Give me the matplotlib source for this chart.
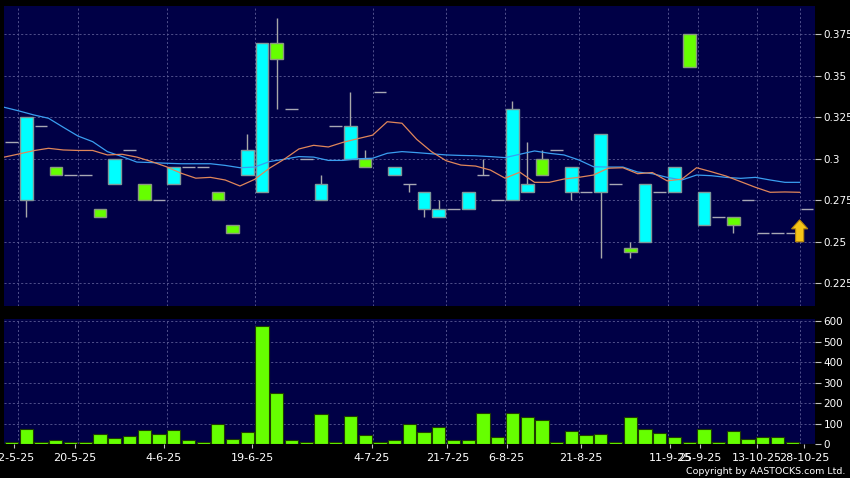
import numpy as np
import matplotlib
matplotlib.use('Agg')
import matplotlib.pyplot as plt
from matplotlib.patches import FancyArrow
from matplotlib.ticker import FuncFormatter

# daily candles, left to right
opens = [0.31, 0.275, 0.32, 0.295, 0.29, 0.29, 0.27, 0.285, 0.305, 0.285,
         0.275, 0.285, 0.295, 0.295, 0.28, 0.26, 0.29, 0.28, 0.37, 0.33,
         0.30, 0.275, 0.32, 0.30, 0.30, 0.34, 0.29, 0.285, 0.27, 0.265,
         0.27, 0.27, 0.29, 0.275, 0.275, 0.28, 0.30, 0.305, 0.28, 0.28,
         0.28, 0.285, 0.246, 0.25, 0.28, 0.28, 0.375, 0.26, 0.265, 0.265,
         0.275, 0.255, 0.255, 0.255, 0.27]
highs = [0.31, 0.325, 0.32, 0.295, 0.29, 0.29, 0.27, 0.30, 0.305, 0.285,
         0.275, 0.295, 0.295, 0.295, 0.28, 0.26, 0.315, 0.37, 0.385, 0.33,
         0.30, 0.29, 0.32, 0.34, 0.305, 0.34, 0.295, 0.285, 0.28, 0.275,
         0.27, 0.28, 0.30, 0.275, 0.335, 0.31, 0.305, 0.305, 0.295, 0.28,
         0.315, 0.285, 0.25, 0.285, 0.28, 0.295, 0.375, 0.28, 0.265, 0.265,
         0.275, 0.255, 0.255, 0.255, 0.27]
lows = [0.31, 0.265, 0.32, 0.29, 0.29, 0.29, 0.265, 0.285, 0.305, 0.275,
        0.275, 0.285, 0.295, 0.295, 0.275, 0.255, 0.29, 0.28, 0.33, 0.33,
        0.30, 0.275, 0.32, 0.30, 0.295, 0.34, 0.29, 0.28, 0.265, 0.265,
        0.27, 0.27, 0.29, 0.275, 0.275, 0.28, 0.29, 0.305, 0.275, 0.28,
        0.24, 0.285, 0.24, 0.25, 0.28, 0.28, 0.355, 0.26, 0.265, 0.255,
        0.275, 0.255, 0.255, 0.255, 0.27]
closes = [0.31, 0.325, 0.32, 0.29, 0.29, 0.29, 0.265, 0.30, 0.305, 0.275,
          0.275, 0.295, 0.295, 0.295, 0.275, 0.255, 0.305, 0.37, 0.36, 0.33,
          0.30, 0.285, 0.32, 0.32, 0.295, 0.34, 0.295, 0.285, 0.28, 0.27,
          0.27, 0.28, 0.29, 0.275, 0.33, 0.285, 0.29, 0.305, 0.295, 0.28,
          0.315, 0.285, 0.244, 0.285, 0.28, 0.295, 0.355, 0.28, 0.265, 0.26,
          0.275, 0.255, 0.255, 0.255, 0.27]
volumes = [8, 73, 8, 19, 8, 8, 49, 29, 39, 70,
           49, 70, 19, 8, 99, 24, 60, 575, 250, 19,
           8, 148, 8, 138, 45, 8, 19, 99, 60, 82,
           20, 20, 150, 32, 150, 132, 118, 11, 63, 42,
           47, 11, 132, 73, 53, 34, 11, 73, 11, 63,
           23, 34, 34, 11, 0]

# moving averages, read at the slot boundaries
ma_blue = [0.331, 0.3288, 0.3264, 0.3244, 0.319, 0.3137, 0.3103, 0.3043, 0.3013, 0.298,
           0.2977, 0.2973, 0.297, 0.297, 0.297, 0.296, 0.2946, 0.295, 0.2983, 0.2997,
           0.3013, 0.301, 0.299, 0.299, 0.300, 0.3003, 0.3033, 0.3043, 0.3037, 0.303,
           0.3023, 0.302, 0.3018, 0.3013, 0.3007, 0.3027, 0.3047, 0.3033, 0.3023, 0.2993,
           0.2952, 0.295, 0.295, 0.292, 0.291, 0.2888, 0.2872, 0.2902, 0.2898, 0.2888,
           0.2882, 0.2888, 0.2872, 0.2858, 0.2858]
ma_orange = [0.301, 0.3029, 0.3049, 0.3063, 0.3053, 0.305, 0.305, 0.3023, 0.3027, 0.301,
             0.2983, 0.2952, 0.2913, 0.2883, 0.2888, 0.2872, 0.2836, 0.2876, 0.2943, 0.2997,
             0.3059, 0.3081, 0.3071, 0.3099, 0.3121, 0.3142, 0.3223, 0.3214, 0.3117, 0.3043,
             0.2988, 0.2962, 0.2956, 0.2932, 0.2883, 0.2919, 0.2858, 0.2858, 0.2878, 0.2888,
             0.2902, 0.2943, 0.2946, 0.291, 0.2917, 0.2867, 0.2877, 0.2946, 0.2922, 0.2896,
             0.2862, 0.2828, 0.2798, 0.28, 0.2798]

grid_pos = [0.45, 4.5, 10.55, 16.55, 24.5, 29.5, 33.5, 38.5, 44.55, 46.6, 50.6, 53.5]
tick_pos = [0.15, 4.27, 10.34, 16.35, 24.47, 29.59, 33.6, 38.67, 44.7, 46.7, 50.6, 53.8]
tick_labels = ['12-5-25', '20-5-25', '4-6-25', '19-6-25', '4-7-25', '21-7-25',
               '6-8-25', '21-8-25', '11-9-25', '25-9-25', '13-10-25', '28-10-25']
price_ticks = [0.225, 0.25, 0.275, 0.3, 0.325, 0.35, 0.375]
vol_ticks = [0, 100, 200, 300, 400, 500, 600]

navy = '#000046'
grid_col = '#5c5c96'
x = np.arange(len(closes))
o = np.array(opens)
c = np.array(closes)

fig = plt.figure(figsize=(8.5, 4.78), dpi=100, facecolor='black')
ax = fig.add_axes([0.0047, 0.3598, 0.9541, 0.6276], facecolor=navy)
axv = fig.add_axes([0.0047, 0.0711, 0.9541, 0.2615], facecolor=navy)

# price panel
ax.vlines(x, lows, highs, color='#a8a8a8', lw=1, zorder=2)
up = c > o
down = c < o
flat = c == o
ax.bar(x[up], (c - o)[up], bottom=o[up], width=0.86, color='#00ffff',
       edgecolor='#7f9a9a', lw=1, zorder=3)
ax.bar(x[down], (o - c)[down], bottom=c[down], width=0.86, color='#66ff00',
       edgecolor='#8a9a80', lw=1, zorder=3)
ax.hlines(c[flat], x[flat] - 0.43, x[flat] + 0.43, color='#a8a8b4', lw=1, zorder=3)

xm = x - 0.5
ax.plot(xm, ma_blue, color='#3a9ef0', lw=0.9, zorder=4)
ax.plot(xm, ma_orange, color='#e0865a', lw=0.9, zorder=4)

ax.add_patch(FancyArrow(53.5, 0.25, 0, 0.0078, width=0.55, head_width=1.1,
                        head_length=0.0054, length_includes_head=False,
                        fc='#f5c518', ec='#b8860b', lw=0.8, zorder=5))

ax.set_xlim(-0.52, 54.54)
ax.set_ylim(0.2113, 0.392)
ax.set_yticks(price_ticks)
ax.yaxis.set_major_formatter(FuncFormatter(lambda v, p: '%g' % v))
ax.set_xticks([])

# volume panel
axv.bar(x, volumes, width=0.9, color='#66ff00', edgecolor='#1f3d00', lw=0.8, zorder=3)
axv.set_xlim(-0.52, 54.54)
axv.set_ylim(0, 610)
axv.set_yticks(vol_ticks)
axv.set_xticks(tick_pos)
axv.set_xticklabels(tick_labels)

for a in (ax, axv):
    for s in a.spines.values():
        s.set_visible(False)
    a.yaxis.tick_right()
    a.grid(True, axis='y', color=grid_col, ls=(0, (2.5, 2.5)), lw=0.6)
    for gx in grid_pos:
        a.axvline(gx, color=grid_col, ls=(0, (2.5, 2.5)), lw=0.6, zorder=1)
    a.set_axisbelow(True)
    a.tick_params(axis='y', colors='white', labelsize=7.5, length=4, pad=2,
                  color='#c0c0c0')
    a.tick_params(axis='x', colors='white', labelsize=8, length=3, pad=3.5,
                  color='#c0c0c0')

fig.text(0.995, 0.004, 'Copyright by AASTOCKS.com Ltd.', color='white',
         fontsize=6.8, ha='right', va='bottom')

fig.savefig('out.png', dpi=100, facecolor='black')
